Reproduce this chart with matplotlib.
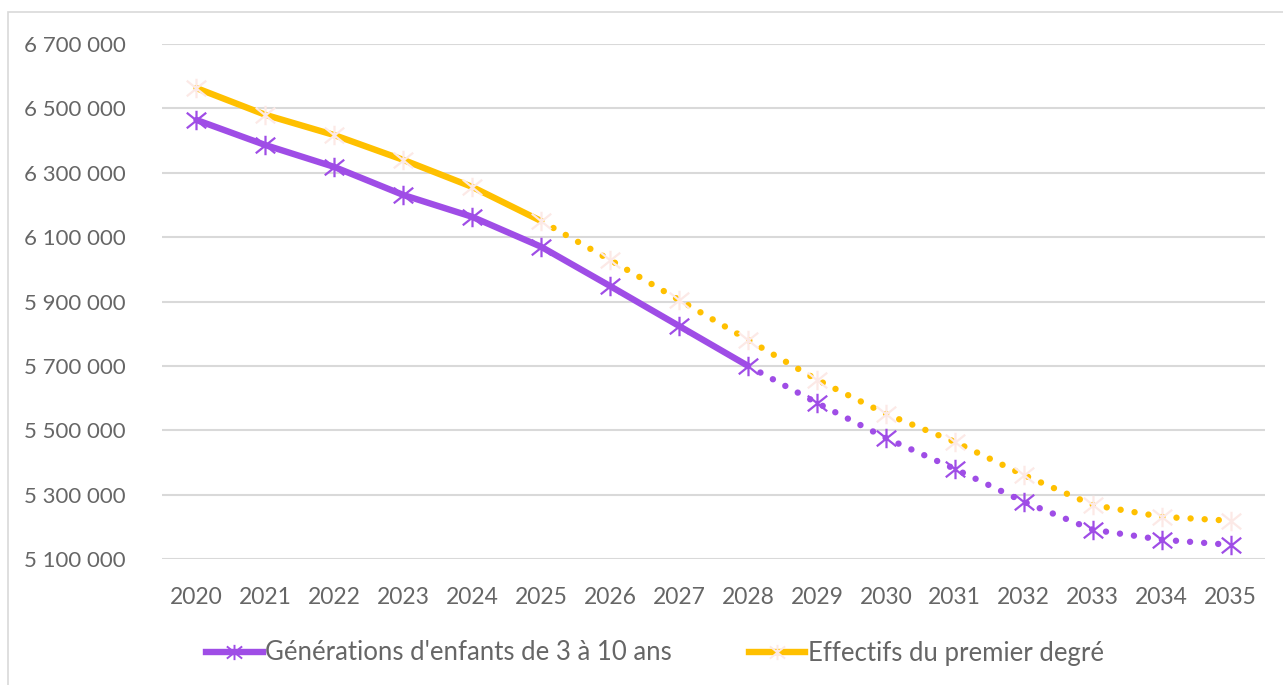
import numpy as np
import matplotlib
matplotlib.use("Agg")
import matplotlib.pyplot as plt
from matplotlib.path import Path
from matplotlib.lines import Line2D
from matplotlib.patches import Rectangle
from matplotlib.ticker import FuncFormatter

plt.rcParams['font.family'] = ['Lato', 'DejaVu Sans']

# données
annees = ['2020', '2021', '2022', '2023', '2024', '2025', '2026', '2027',
          '2028', '2029', '2030', '2031', '2032', '2033', '2034', '2035']
generations = [6464000, 6386000, 6318000, 6231000, 6163000, 6070000, 5948000, 5824000,
               5700000, 5585000, 5476000, 5380000, 5278000, 5191000, 5160000, 5144000]
effectifs = [6563000, 6480000, 6417000, 6340000, 6256000, 6150000, 6029000, 5905000,
             5781000, 5657000, 5551000, 5464000, 5361000, 5268000, 5231000, 5219000]
fin_obs_gen = 8   # 2028 : fin du trait plein
fin_obs_eff = 5   # 2025
label_gen = "Générations d'enfants de 3 à 10 ans"
label_eff = "Effectifs du premier degré"

violet = '#9F4DE6'
jaune = '#FFC000'
rose = '#FCE9E6'
gris = '#666666'

# marqueur étoile façon Excel : trait vertical + croix
etoile = Path([(0, -1), (0, 1), (-1, -0.8), (1, 0.8), (-1, 0.8), (1, -0.8)],
              [Path.MOVETO, Path.LINETO, Path.MOVETO, Path.LINETO, Path.MOVETO, Path.LINETO])

x = np.arange(len(annees))

fig = plt.figure(figsize=(12.83, 6.85), dpi=100)
ax = fig.add_axes([162/1283, 1 - 559/685, (1265-162)/1283, (559-44)/685])

lw = 4.6
dots = (0, (0.01, 2.2))

# effectifs (jaune)
ax.plot(x[:fin_obs_eff+1], effectifs[:fin_obs_eff+1], color=jaune, lw=lw,
        solid_capstyle='round', zorder=3)
ax.plot(x[fin_obs_eff:], effectifs[fin_obs_eff:], color=jaune, lw=lw,
        linestyle=dots, dash_capstyle='round', zorder=3)
ax.plot(x, effectifs, linestyle='none', marker=etoile, markersize=14,
        markeredgecolor=rose, markeredgewidth=1.6, zorder=4)

# générations (violet)
ax.plot(x[:fin_obs_gen+1], generations[:fin_obs_gen+1], color=violet, lw=lw,
        solid_capstyle='round', zorder=5)
ax.plot(x[fin_obs_gen:], generations[fin_obs_gen:], color=violet, lw=lw,
        linestyle=dots, dash_capstyle='round', zorder=5)
ax.plot(x, generations, linestyle='none', marker=etoile, markersize=14,
        markeredgecolor=violet, markeredgewidth=1.6, zorder=6)

ax.set_xlim(-0.5, len(annees) - 0.5)
ax.set_ylim(5100000, 6700000)
ax.set_yticks(np.arange(5100000, 6700001, 200000))
ax.yaxis.set_major_formatter(FuncFormatter(lambda v, p: f"{int(v):,}".replace(',', ' ')))
ax.set_xticks(x)
ax.set_xticklabels(annees)

ax.grid(axis='y', color='#d9d9d9', lw=1.5)
ax.set_axisbelow(True)
for s in ax.spines.values():
    s.set_visible(False)
ax.tick_params(axis='both', length=0, colors=gris)
ax.tick_params(axis='y', pad=26, labelsize=16)
ax.tick_params(axis='x', pad=20, labelsize=16.5)

# légende
h_gen = Line2D([], [], color=violet, lw=lw, marker=etoile, markersize=11,
               markeredgecolor=violet, markeredgewidth=1.4)
h_eff = Line2D([], [], color=jaune, lw=lw, marker=etoile, markersize=11,
               markeredgecolor=rose, markeredgewidth=1.4)
leg = fig.legend([h_gen, h_eff], [label_gen, label_eff], loc='center',
                 bbox_to_anchor=(655/1283, 1 - 653/685), ncol=2, frameon=False,
                 fontsize=18.5, handlelength=2.2, handletextpad=0.1, columnspacing=3.0)
for t in leg.get_texts():
    t.set_color(gris)

# cadre du graphique
fig.patches.append(Rectangle((8/1283, -0.01), 1.0, 1 - 12/685 + 0.01,
                             transform=fig.transFigure, fill=False,
                             edgecolor='#d9d9d9', lw=1.2))

fig.savefig('out.png', dpi=100)
